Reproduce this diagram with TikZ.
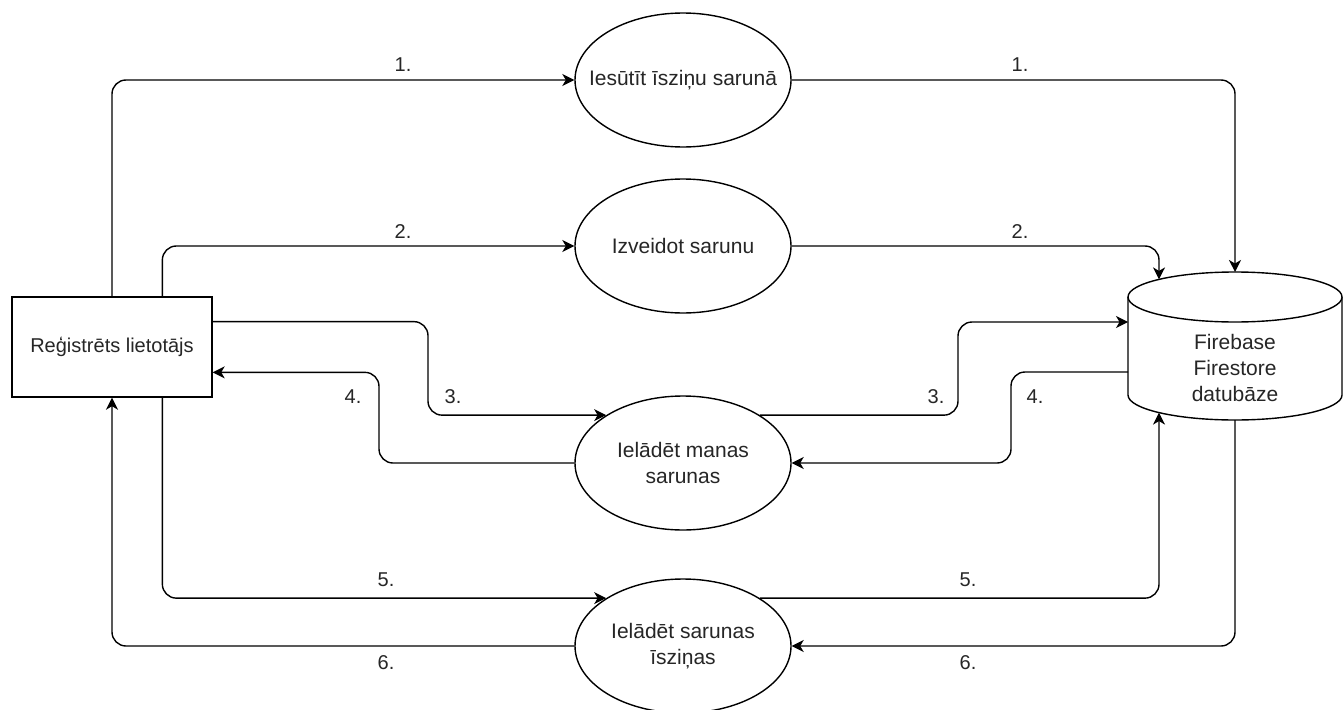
\documentclass[tikz,border=0pt]{standalone}
\usepackage{fontspec}
\setmainfont{Liberation Sans}
\usetikzlibrary{arrows.meta,calc,shapes.geometric}

\definecolor{ink}{RGB}{0,0,0}
\definecolor{txt}{RGB}{38,38,38}

\begin{document}
\begin{tikzpicture}[x=1pt,y=-1pt,
  outline/.style={draw=ink, line width=1.4pt},
  proc/.style={outline, ellipse, fill=white, minimum width=216pt, minimum height=134pt, inner sep=0pt},
  proctext/.style={font=\fontsize{21}{26}\selectfont, text=txt, align=center, inner sep=0pt},
  actor/.style={outline, rectangle, fill=white, minimum width=200pt, minimum height=100pt, inner sep=0pt,
    font=\fontsize{20}{24}\selectfont, text=txt},
  numlbl/.style={font=\fontsize{20}{24}\selectfont, text=txt, inner sep=0pt},
  flow/.style={draw=ink, line width=1.4pt, rounded corners=14pt,
    -{Stealth[length=12pt,width=12pt,inset=3.5pt]}},
]
% canvas
\useasboundingbox[fill=white] (0,0) rectangle (1343,709);

% user
\node[actor] (usr) at (112,347) {Reģistrēts lietotājs};

% processes
\node[proc, label={[proctext]center:Iesūtīt īsziņu sarunā}] (e1) at (683,80) {};
\node[proc, label={[proctext]center:Izveidot sarunu}] (e2) at (683,246) {};
\node[proc, label={[proctext]center:Ielādēt manas\\sarunas}] (e3) at (683,463) {};
\node[proc, label={[proctext]center:Ielādēt sarunas\\īsziņas}] (e4) at (683,646) {};

% database cylinder
\node[minimum width=214pt, minimum height=148pt, inner sep=0pt, outer sep=0pt] (db) at (1235,346) {};
\draw[outline, fill=white] ($(db.north west)+(0,25)$) -- ($(db.south west)+(0,-25)$)
  arc[start angle=180, end angle=360, x radius=107pt, y radius=25pt]
  -- ($(db.north east)+(0,25)$);
\draw[outline, fill=white] ($(db.north)+(0,25)$) ellipse[x radius=107pt, y radius=25pt];
\node[proctext] (dbtext) at (1235,368) {Firebase\\Firestore\\datubāze};

% attachment points
\coordinate (b2) at ($(usr.north)!0.5!(usr.north east)$);
\coordinate (b3) at ($(usr.east)!0.5!(usr.north east)$);
\coordinate (b4) at ($(usr.east)!0.5!(usr.south east)$);
\coordinate (b5) at ($(usr.south)!0.5!(usr.south east)$);
\coordinate (dbT) at (db.north);
\coordinate (dbTL) at ($(db.north)+(-76,7.4)$);
\coordinate (dbBL) at ($(db.south)+(-76,-7.4)$);
\coordinate (dbB) at (db.south);
\coordinate (dbW1) at ($(db.west)+(0,-24)$);
\coordinate (dbW2) at ($(db.west)+(0,26)$);

% flows: user side
\draw[flow] (usr.north) |- (e1.west);
\draw[flow] (b2) |- (e2.west);
\draw[flow] (b3) -| (428,0 |- e3.north west) -- (e3.north west);
\draw[flow] (e3.west) -| (379,0 |- b4) -- (b4);
\draw[flow] (b5) |- (e4.north west);
\draw[flow] (e4.west) -| (usr.south);

% flows: database side
\draw[flow] (e1.east) -| (dbT);
\draw[flow] (e2.east) -| (dbTL);
\draw[flow] (e3.north east) -| (958,0 |- dbW1) -- (dbW1);
\draw[flow] (dbW2) -| (1011,0 |- e3.east) -- (e3.east);
\draw[flow] (e4.north east) -| (dbBL);
\draw[flow] (dbB) |- (e4.east);

% step numbers
\node[numlbl] (n1a) at (403,65) {1.};
\node[numlbl] (n2a) at (403,232) {2.};
\node[numlbl] (n3a) at (453,397) {3.};
\node[numlbl] (n4a) at (353,397) {4.};
\node[numlbl] (n5a) at (386,580) {5.};
\node[numlbl] (n6a) at (386,663) {6.};
\node[numlbl] (n1b) at (1020,65) {1.};
\node[numlbl] (n2b) at (1020,232) {2.};
\node[numlbl] (n3b) at (936,397) {3.};
\node[numlbl] (n4b) at (1035,397) {4.};
\node[numlbl] (n5b) at (968,580) {5.};
\node[numlbl] (n6b) at (968,663) {6.};
\end{tikzpicture}
\end{document}
